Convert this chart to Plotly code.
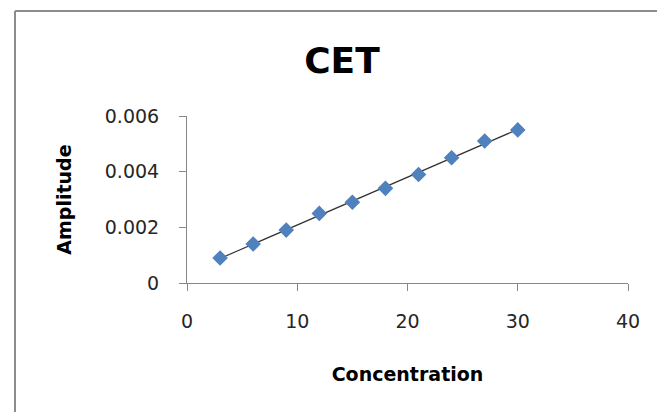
import numpy as np
import plotly.graph_objects as go

# Calibration data
concentration = [3, 6, 9, 12, 15, 18, 21, 24, 27, 30]
amplitude = [0.0009, 0.0014, 0.0019, 0.0025, 0.0029, 0.0034, 0.0039, 0.0045, 0.0051, 0.0055]
x_ticks = [0, 10, 20, 30, 40]
y_ticks = [0, 0.002, 0.004, 0.006]
y_tick_text = ["0", "0.002", "0.004", "0.006"]

W, H = 657, 412
L, R, T, B = 187, 29, 116, 129

# Least-squares linear trendline
slope, intercept = np.polyfit(concentration, amplitude, 1)
trend_x = [min(concentration), max(concentration)]
trend_y = [slope * v + intercept for v in trend_x]

fig = go.Figure()
fig.add_trace(go.Scatter(
    x=trend_x, y=trend_y, mode="lines",
    line=dict(color="#333333", width=1.2),
    hoverinfo="skip", showlegend=False,
))
fig.add_trace(go.Scatter(
    x=concentration, y=amplitude, mode="markers",
    marker=dict(symbol="diamond", size=12, color="#4F81BD",
                line=dict(width=0)),
    showlegend=False,
))

axis_font = dict(family="DejaVu Sans", size=19, color="#262626")

fig.update_layout(
    width=W, height=H,
    margin=dict(l=L, r=R, t=T, b=B),
    paper_bgcolor="white", plot_bgcolor="white",
    title=dict(text="<b>CET</b>", x=342 / W, xref="container", xanchor="center",
               y=1 - 60 / H, yref="container", yanchor="middle",
               font=dict(family="DejaVu Sans", size=36, color="black")),
    xaxis=dict(
        range=[0, 40], tickvals=x_ticks, showgrid=False, zeroline=False,
        showline=True, linecolor="#888888", linewidth=1,
        ticks="outside", ticklen=7, tickcolor="#888888",
        tickfont=axis_font, ticklabelstandoff=14,
        title=dict(text="<b>Concentration</b>", standoff=36,
                   font=dict(family="DejaVu Sans", size=19, color="black")),
    ),
    yaxis=dict(
        range=[0, 0.006], tickvals=y_ticks, ticktext=y_tick_text,
        showgrid=False, zeroline=False,
        showline=True, linecolor="#888888", linewidth=1,
        ticks="outside", ticklen=7, tickcolor="#888888",
        tickfont=axis_font, ticklabelstandoff=16,
        title=dict(text="<b>Amplitude</b>", standoff=28,
                   font=dict(family="DejaVu Sans", size=19, color="black")),
    ),
)

# Chart frame (left and top edges)
pw, ph = W - L - R, H - T - B
def px(xp):
    return (xp - L) / pw
def py(yp):
    return (H - B - yp) / ph

frame = dict(color="#8c8c8c", width=2)
fig.add_shape(type="line", xref="paper", yref="paper",
              x0=px(15), x1=px(15), y0=py(11), y1=py(H + 5), line=frame)
fig.add_shape(type="line", xref="paper", yref="paper",
              x0=px(15), x1=px(W + 5), y0=py(11), y1=py(11), line=frame)

fig.write_html("out.html")
